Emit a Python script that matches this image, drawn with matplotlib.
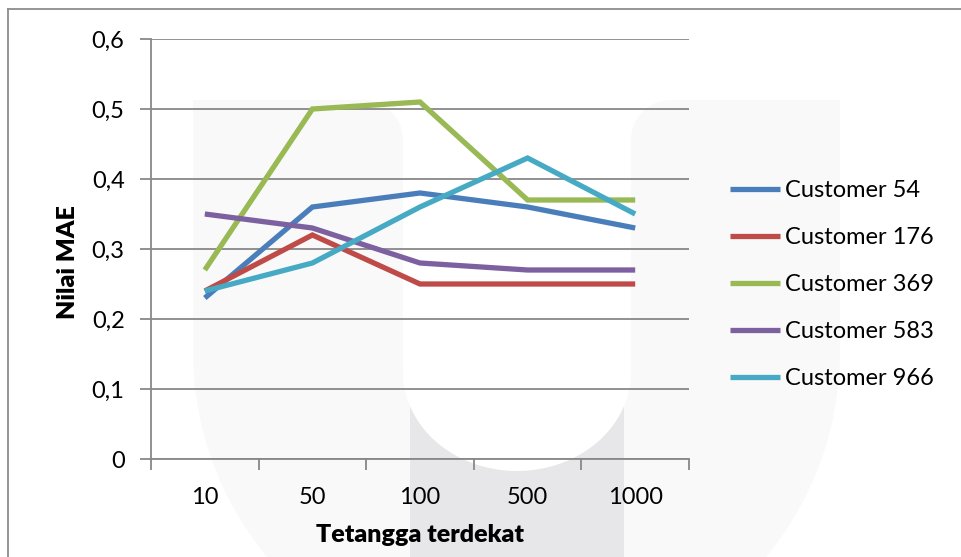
import numpy as np
import matplotlib
matplotlib.use("Agg")
import matplotlib.pyplot as plt
from matplotlib.patches import Polygon, Rectangle

plt.rcParams['font.family'] = ['Lato', 'DejaVu Sans']

# ---- data ----
neighbours = ["10", "50", "100", "500", "1000"]
customer_54 = [0.23, 0.36, 0.38, 0.36, 0.33]
customer_176 = [0.24, 0.32, 0.25, 0.25, 0.25]
customer_369 = [0.27, 0.50, 0.51, 0.37, 0.37]
customer_583 = [0.35, 0.33, 0.28, 0.27, 0.27]
customer_966 = [0.24, 0.28, 0.36, 0.43, 0.35]
series_names = ["Customer 54", "Customer 176", "Customer 369", "Customer 583", "Customer 966"]
y_ticks = [0, 0.1, 0.2, 0.3, 0.4, 0.5, 0.6]
y_tick_labels = ["0", "0,1", "0,2", "0,3", "0,4", "0,5", "0,6"]

colors = ["#4A7EBB", "#BE4B48", "#98B954", "#7D60A0", "#46AAC5"]
grid_gray = "#888888"

W, H = 961, 557
fig = plt.figure(figsize=(W / 100, H / 100), dpi=100)

# ---- background logo watermark (pixel coordinates) ----
bg = fig.add_axes([0, 0, 1, 1], zorder=0)
bg.set_xlim(0, W)
bg.set_ylim(H, 0)
bg.axis("off")


def arc(cx, cy, rx, ry, a0, a1, n=60):
    t = np.radians(np.linspace(a0, a1, n))
    return np.column_stack([cx + rx * np.cos(t), cy + ry * np.sin(t)])


light = "#f9f9f9"
dark = "#e7e7e9"
gx0, gx1 = 403, 631          # inner gap of the U
gcx = (gx0 + gx1) / 2
outer_cx, outer_cy, outer_r = 516.5, 351, 323.5

pts = [[193, 100], [gx0 - 40, 100]]
pts += arc(gx0 - 40, 140, 40, 40, -90, 0).tolist()
pts += [[gx0, 372]]
pts += arc(gcx, 372, (gx1 - gx0) / 2, 99, 180, 0).tolist()
pts += [[gx1, 140]]
pts += arc(gx1 + 40, 140, 40, 40, 180, 270).tolist()
pts += [[840, 100], [840, outer_cy]]
pts += arc(outer_cx, outer_cy, outer_r, outer_r, 0, 180, 120).tolist()
bg.add_patch(Polygon(pts, closed=True, facecolor=light, edgecolor="none"))
bg.add_patch(Rectangle((410, 375), 214, 200, facecolor=dark, edgecolor="none"))
bowl = [[gx0, 100], [gx0, 372]] + arc(gcx, 372, (gx1 - gx0) / 2, 99, 180, 0).tolist() + [[gx1, 100]]
bg.add_patch(Polygon(bowl, closed=True, facecolor="white", edgecolor="none"))

# chart frame (runs off the right and bottom edges)
bg.plot([8, W + 5], [9, 9], color="#8c8c8c", lw=1.3)
bg.plot([8, 8], [9, H + 5], color="#8c8c8c", lw=1.3)

# ---- main chart ----
ax = fig.add_axes([151 / W, 1 - 459 / H, (689 - 151) / W, (459 - 39) / H], zorder=1)
ax.set_facecolor("none")

x = np.arange(len(neighbours))
for vals, name, c in zip([customer_54, customer_176, customer_369, customer_583, customer_966],
                         series_names, colors):
    ax.plot(x, vals, color=c, lw=3.8, label=name, solid_capstyle="butt",
            solid_joinstyle="miter", zorder=3)

ax.set_xlim(-0.5, len(neighbours) - 0.5)
ax.set_ylim(0, 0.6)
ax.set_yticks(y_ticks)
ax.set_yticklabels(y_tick_labels)
ax.yaxis.grid(True, color=grid_gray, lw=1.3)
ax.set_axisbelow(True)

ax.set_xticks(np.arange(-0.5, len(neighbours)), minor=False)
ax.set_xticklabels([])
ax.set_xticks(x, minor=True)
ax.set_xticklabels(neighbours, minor=True)
ax.tick_params(axis="x", which="major", length=8, width=1.3, color=grid_gray, direction="out")
ax.tick_params(axis="x", which="minor", length=0, pad=20, labelsize=17)
ax.tick_params(axis="y", length=8, width=1.3, color=grid_gray, pad=11, labelsize=17)

for s in ["top", "right"]:
    ax.spines[s].set_visible(False)
for s in ["left", "bottom"]:
    ax.spines[s].set_color(grid_gray)
    ax.spines[s].set_linewidth(1.3)

fig.text(420 / W, 1 - 535 / H, "Tetangga terdekat", ha="center", va="center",
         fontsize=18, fontweight="heavy")
fig.text(68 / W, 1 - 262 / H, "Nilai MAE", ha="center", va="center", rotation=90,
         fontsize=18, fontweight="heavy")

ax.legend(loc="upper left", bbox_to_anchor=(730 / W, 1 - 180 / H), bbox_transform=fig.transFigure,
          frameon=False, fontsize=17, handlelength=2.1, handletextpad=0.25,
          labelspacing=1.1, borderaxespad=0, borderpad=0)

fig.savefig("out.png", dpi=100)
